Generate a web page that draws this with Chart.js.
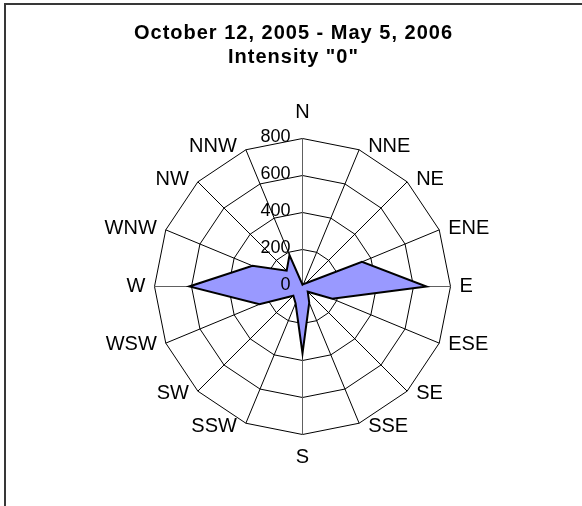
<!DOCTYPE html>
<html>
<head>
<meta charset="utf-8">
<title>Wind rose - Intensity 0</title>
<script src="https://cdn.jsdelivr.net/npm/chart.js@4.4.1/dist/chart.umd.min.js"></script>
<style>
  html, body { margin: 0; padding: 0; background: #fff; overflow: hidden; }
  #wrap { width: 582px; height: 506px; }
</style>
</head>
<body>
<div id="wrap"><canvas id="rose" width="582" height="506"></canvas></div>
<script>
// Wind direction counts, October 12, 2005 - May 5, 2006, intensity "0"
var DIRECTIONS = ["N", "NNE", "NE", "ENE", "E", "ESE", "SE", "SSE",
                  "S", "SSW", "SW", "WSW", "W", "WNW", "NW", "NNW"];
var COUNTS = [10, 15, 25, 348, 670, 174, 40, 95,
              361, 98, 70, 252, 612, 293, 121, 184];
var TICK_VALUES = [0, 200, 400, 600, 800];
var TITLE_LINES = ["October 12, 2005 - May 5, 2006", 'Intensity "0"'];

(function () {
  "use strict";

  var FONT_FAMILY = '"Liberation Sans", Arial, Helvetica, sans-serif';

  // frame, axis labels and tick labels drawn around the radial scale
  var rosePlugin = {
    id: "roseDecor",
    beforeDraw: function (chart) {
      var ctx = chart.ctx;
      ctx.save();
      ctx.fillStyle = "#fff";
      ctx.fillRect(0, 0, chart.width, chart.height);
      ctx.strokeStyle = "#383838";
      ctx.lineWidth = 2;
      ctx.beginPath();
      ctx.moveTo(5, chart.height);
      ctx.lineTo(5, 4);
      ctx.lineTo(chart.width, 4);
      ctx.stroke();
      ctx.restore();
      // the old title was set with loose spacing
      ctx.letterSpacing = "1px";
    },
    beforeDatasetsDraw: function (chart) {
      chart.ctx.letterSpacing = "0px";
    },
    afterDatasetsDraw: function (chart) {
      var scale = chart.scales.r;
      var ctx = chart.ctx;
      ctx.save();
      ctx.fillStyle = "#000";
      ctx.textBaseline = "middle";

      ctx.font = "20px " + FONT_FAMILY;
      DIRECTIONS.forEach(function (name, i) {
        var p = scale.getPointPosition(i, scale.drawingArea);
        var a = scale.getIndexAngle(i);
        var s = Math.sin(a), c = Math.cos(a);
        var x = p.x, y = p.y;
        if (Math.abs(s) < 0.01) {
          ctx.textAlign = "center";
          y += c > 0 ? -26 : 23;
        } else {
          ctx.textAlign = s > 0 ? "left" : "right";
          x += s > 0 ? 9 : -9;
          y -= c * 4;
        }
        ctx.fillText(name, x, y);
      });

      ctx.font = "18px " + FONT_FAMILY;
      ctx.textAlign = "right";
      TICK_VALUES.forEach(function (v) {
        var d = scale.getDistanceFromCenterForValue(v);
        ctx.fillText(String(v), scale.xCenter - 12, scale.yCenter - d - 1);
      });
      ctx.restore();
    }
  };

  var ctx = document.getElementById("rose").getContext("2d");
  new Chart(ctx, {
    type: "radar",
    data: {
      labels: DIRECTIONS,
      datasets: [{
        data: COUNTS,
        backgroundColor: "#9999ff",
        borderColor: "#000",
        borderWidth: 2,
        pointRadius: 0,
        pointHoverRadius: 0,
        fill: true,
        tension: 0,
        clip: false
      }]
    },
    options: {
      responsive: false,
      animation: false,
      devicePixelRatio: 1,
      layout: { padding: { left: 5, right: 0, top: 0, bottom: 0 } },
      plugins: {
        legend: { display: false },
        tooltip: { enabled: false },
        title: {
          display: true,
          text: TITLE_LINES,
          color: "#000",
          font: { family: FONT_FAMILY, size: 20, weight: "bold", lineHeight: 1.2 },
          padding: { top: 21, bottom: 10 }
        }
      },
      scales: {
        r: {
          min: 0,
          max: 800,
          beginAtZero: true,
          ticks: { stepSize: 200, display: false },
          pointLabels: { display: false },
          grid: { color: "#000", lineWidth: 1 },
          angleLines: {
            color: function (c) { return c.index % 4 === 0 ? "#606060" : "#000"; },
            lineWidth: 1
          },
          // pin the rose where it sits in the original picture
          afterFit: function (scale) {
            scale.xCenter = 302.5;
            scale.yCenter = 286.5;
            scale.drawingArea = 148;
          }
        }
      }
    },
    plugins: [rosePlugin]
  });
})();
</script>
</body>
</html>
